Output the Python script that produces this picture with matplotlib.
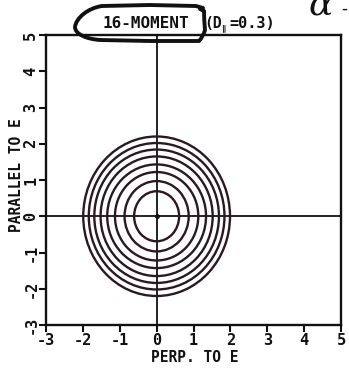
import matplotlib
matplotlib.use("Agg")
import matplotlib.pyplot as plt
from matplotlib.patches import Ellipse, PathPatch
from matplotlib.path import Path

# Semi-axes of the distribution contours (perpendicular / parallel to E)
perp_semi = [0.61, 0.87, 1.13, 1.34, 1.52, 1.69, 1.84, 1.99]
par_semi = [0.69, 0.97, 1.22, 1.43, 1.65, 1.84, 2.02, 2.20]
x_ticks = [-3, -2, -1, 0, 1, 2, 3, 4, 5]
y_ticks = [-3, -2, -1, 0, 1, 2, 3, 4, 5]
title_main = "16-MOMENT"
d_par = 0.3

W, H = 349, 369
ink = "#111111"
contour_ink = "#2b1822"
mono = "DejaVu Sans Mono"

fig = plt.figure(figsize=(W / 100, H / 100), dpi=100)
fig.patch.set_facecolor("white")


def px(x, y):
    return x / W, 1 - y / H


left, right, top, bottom = 46, 341, 35, 325
ax = fig.add_axes([left / W, 1 - bottom / H, (right - left) / W, (bottom - top) / H])
ax.set_xlim(x_ticks[0], x_ticks[-1])
ax.set_ylim(y_ticks[0], y_ticks[-1])

for s in ax.spines.values():
    s.set_linewidth(1.7)
    s.set_color(ink)

# crosshair through the origin
ax.axhline(0, color=ink, lw=1.3, zorder=1)
ax.axvline(0, color=ink, lw=1.3, zorder=1)

for a, b in zip(perp_semi, par_semi):
    ax.add_patch(Ellipse((0, 0), 2 * a, 2 * b, fill=False, ec=contour_ink, lw=1.7, zorder=2))
ax.plot([0], [0], "o", color=ink, ms=2.5, zorder=3)

ax.set_xticks(x_ticks)
ax.set_yticks(y_ticks)
ax.set_xticklabels([str(v) for v in x_ticks], family=mono, weight="bold", fontsize=11)
ax.set_yticklabels([str(v) for v in y_ticks], family=mono, weight="bold", fontsize=11,
                   rotation=90, va="center")
ax.tick_params(axis="both", direction="out", length=5, width=1.5, color=ink, labelcolor=ink,
               pad=0.5, top=False, right=False)

fig.text(*px(195, 358), "PERP. TO E", family=mono, weight="bold", fontsize=10.5,
         ha="center", va="center", color=ink)
fig.text(*px(17, 175), "PARALLEL TO E", family=mono, weight="bold", fontsize=10.5,
         ha="center", va="center", rotation=90, color=ink)

# title line
fig.text(*px(146, 23), title_main, family=mono, weight="bold", fontsize=11.5,
         ha="center", va="center", color=ink)
fig.text(*px(204, 23), "(D", family=mono, weight="bold", fontsize=10.5,
         ha="left", va="center", color=ink)
fig.text(*px(223, 28), "\u2225", family="DejaVu Sans", weight="bold", fontsize=6,
         ha="center", va="center", color=ink)
fig.text(*px(229, 23), "=" + f"{d_par:.1f}" + ")", family=mono, weight="bold", fontsize=11,
         ha="left", va="center", color=ink)

# pen loop drawn around the title
loop_pts = [
    (200, 9), (204, 11), (204, 20), (205, 30), (203, 37),
    (199, 41), (150, 41), (100, 40),
    (86, 39), (75, 34), (75, 27),
    (76, 18), (88, 8), (102, 6),
    (150, 5), (196, 6), (203, 8),
]
codes = [Path.MOVETO, Path.LINETO, Path.CURVE3, Path.CURVE3, Path.CURVE3, Path.CURVE3,
         Path.LINETO, Path.LINETO,
         Path.CURVE4, Path.CURVE4, Path.CURVE4,
         Path.CURVE4, Path.CURVE4, Path.CURVE4,
         Path.LINETO, Path.LINETO, Path.LINETO]
verts = [px(x, y) for x, y in loop_pts]
fig.add_artist(PathPatch(Path(verts, codes), transform=fig.transFigure, fill=False,
                         ec=ink, lw=2.8, capstyle="round", joinstyle="round"))

# handwritten mark at the corner
fig.text(*px(321, 5), "\u03b1", family="DejaVu Serif", style="italic", fontsize=26,
         ha="center", va="center", color=ink)
fig.text(*px(344, 9), "-", family="DejaVu Sans", fontsize=12, ha="center", va="center", color=ink)

fig.savefig("out.png", dpi=100, facecolor="white")
